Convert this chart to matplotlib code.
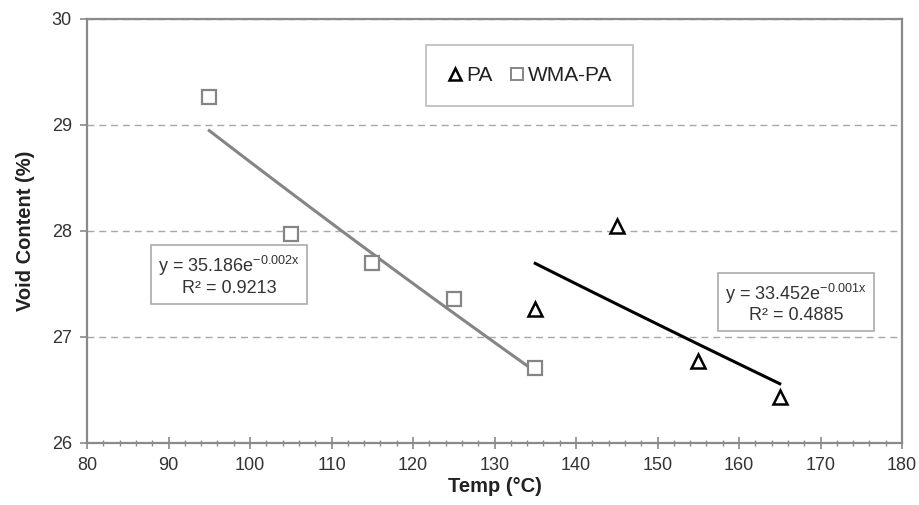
import numpy as np
import matplotlib
matplotlib.use('Agg')
import matplotlib.pyplot as plt
from matplotlib.lines import Line2D

plt.rcParams['font.family'] = ['Liberation Sans', 'DejaVu Sans']
plt.rcParams['mathtext.default'] = 'regular'

# data
pa_temp = [135, 145, 155, 165]
pa_void = [27.26, 28.05, 26.77, 26.43]
wma_temp = [95, 105, 115, 125, 135]
wma_void = [29.26, 27.97, 27.70, 27.36, 26.71]

pa_eq = 'y = 33.452e$^{-0.001x}$\nR² = 0.4885'
wma_eq = 'y = 35.186e$^{-0.002x}$\nR² = 0.9213'

grey = '#858585'
axis_grey = '#8a8a8a'


def exp_fit(x, y):
    # exponential trendline like excel: ln(y) = ln(a) + b*x
    x = np.asarray(x, float)
    b, lna = np.polyfit(x, np.log(y), 1)
    xs = np.linspace(x.min(), x.max(), 50)
    return xs, np.exp(lna) * np.exp(b * xs)


fig = plt.figure(figsize=(9.19, 5.05), dpi=100)
ax = fig.add_axes([0.0947, 0.1228, 0.8868, 0.8396])

ax.yaxis.grid(True, linestyle=(0, (5, 3.5)), color='#a8a8a8', linewidth=1.0)
ax.set_axisbelow(True)

xs, ys = exp_fit(wma_temp, wma_void)
ax.plot(xs, ys, color=grey, linewidth=2.2, zorder=2)
xs, ys = exp_fit(pa_temp, pa_void)
ax.plot(xs, ys, color='black', linewidth=2.2, zorder=2)

ax.plot(wma_temp, wma_void, linestyle='none', marker='s', markersize=10.5,
        markerfacecolor='white', markeredgecolor=grey, markeredgewidth=1.6, zorder=3)
ax.plot(pa_temp, pa_void, linestyle='none', marker='^', markersize=9.5,
        markerfacecolor='white', markeredgecolor='black', markeredgewidth=1.8, zorder=3)

ax.set_xlim(80, 180)
ax.set_ylim(26, 30)
ax.set_xticks(np.arange(80, 181, 10))
ax.set_xticks(np.arange(80, 181, 2), minor=True)
ax.set_yticks([26, 27, 28, 29, 30])

for s in ax.spines.values():
    s.set_color(axis_grey)
    s.set_linewidth(1.6)

ax.tick_params(axis='x', which='major', direction='inout', length=8, width=1.2,
               color=axis_grey, labelsize=13, pad=6, labelcolor='#333333')
ax.tick_params(axis='x', which='minor', direction='inout', length=4, width=1.0,
               color=axis_grey)
ax.tick_params(axis='y', direction='out', length=5, width=1.2, color=axis_grey,
               labelsize=13, labelcolor='#333333', pad=6)

ax.set_xlabel('Temp (°C)', fontsize=14.5, fontweight='bold', labelpad=2, color='#222222')
ax.set_ylabel('Void Content (%)', fontsize=14.5, fontweight='bold', labelpad=12, color='#222222')

box = dict(boxstyle='square,pad=0.4', facecolor='white', edgecolor='#aaaaaa', linewidth=1.2)
ax.text(97.4, 27.58, wma_eq, ha='center', va='center', fontsize=13,
        color='#333333', bbox=box, linespacing=1.1, zorder=4)
ax.text(167.0, 27.32, pa_eq, ha='center', va='center', fontsize=13,
        color='#333333', bbox=box, linespacing=1.1, zorder=4)

handles = [
    Line2D([], [], linestyle='none', marker='^', markersize=8.5, markerfacecolor='white',
           markeredgecolor='black', markeredgewidth=1.8),
    Line2D([], [], linestyle='none', marker='s', markersize=8.5, markerfacecolor='white',
           markeredgecolor=grey, markeredgewidth=1.4),
]
leg = ax.legend(handles, ['PA', 'WMA-PA'], loc='upper center', bbox_to_anchor=(0.543, 0.938),
                ncol=2, frameon=True, fancybox=False, fontsize=15, handlelength=0.8,
                handletextpad=0.1, columnspacing=0.8, borderpad=1.0, borderaxespad=0)
leg.get_frame().set_edgecolor('#aaaaaa')
leg.get_frame().set_linewidth(1.2)
for t in leg.get_texts():
    t.set_color('#222222')

fig.savefig('out.png', dpi=100)
